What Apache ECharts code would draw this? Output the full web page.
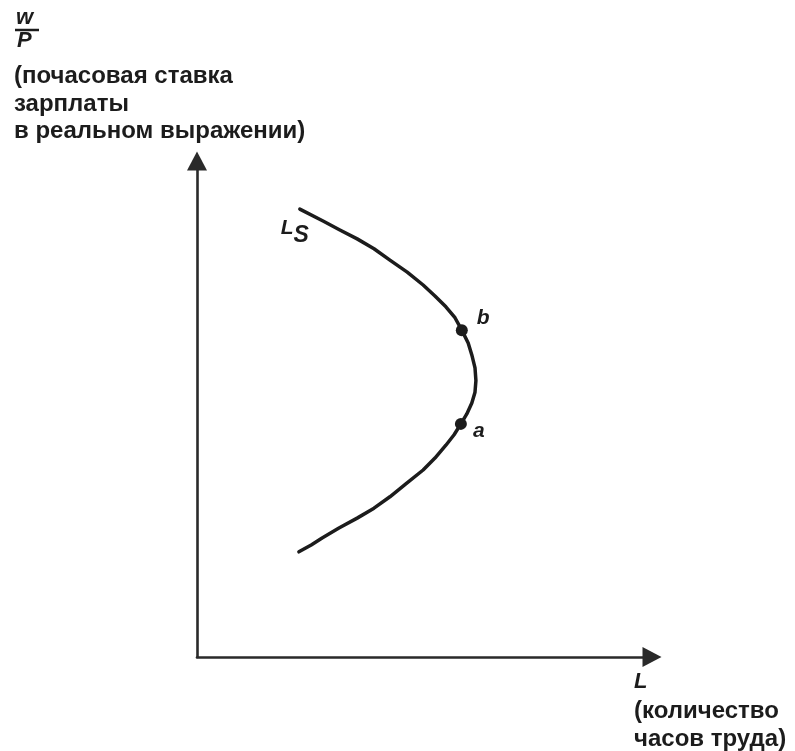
<!DOCTYPE html>
<html><head><meta charset="utf-8">
<script src="https://cdn.jsdelivr.net/npm/echarts@6/dist/echarts.min.js"></script>
<style>html,body{margin:0;padding:0;background:#fff}#c{width:795px;height:751px}</style>
</head><body><div id="c"></div>
<script>
// Labour supply curve L_S (backward bending)
const lsX = [22.6, 27.7, 31.4, 35.2, 38.9, 42.4, 46.2, 49.7, 52.3, 54.7, 56.7, 58.2, 59.6, 60.4, 61.1, 61.3,
             61.1, 60.4, 59.3, 58.0, 56.5, 54.7, 52.3, 49.7, 45.9, 42.4, 38.9, 35.2, 31.2, 27.5, 25.1, 22.4];
const lsY = [90.3, 87.9, 86.1, 84.3, 82.3, 80.0, 77.6, 75.0, 72.8, 70.6, 68.4, 65.9, 63.3, 60.9, 58.3, 55.7,
             53.4, 51.2, 49.0, 47.0, 44.8, 42.7, 40.1, 37.7, 34.9, 32.3, 30.0, 28.0, 26.0, 24.0, 22.6, 21.2];
const pointNames = ['b', 'a'];
const pointX = [58.2, 58.0];
const pointY = [65.9, 47.0];
const curveName = 'L';
const curveSub = 'S';
const yTitle = ['(почасовая ставка', 'зарплаты', 'в реальном выражении)'];
const xTitle = ['(количество', 'часов труда)'];

const font = 'Liberation Sans, Arial, sans-serif';
const ink = '#1c1c1c';
const chart = echarts.init(document.getElementById('c'));
const axisLine = {show: true, symbol: ['none', 'triangle'], symbolSize: [20, 19],
  lineStyle: {color: '#2a2a2a', width: 2.6}};
chart.setOption({
  animation: false,
  grid: {left: 197, right: 143, top: 161, bottom: 94},
  xAxis: {type: 'value', min: 0, max: 100, axisLine: axisLine, axisTick: {show: false},
    axisLabel: {show: false}, splitLine: {show: false}},
  yAxis: {type: 'value', min: 0, max: 100, axisLine: axisLine, axisTick: {show: false},
    axisLabel: {show: false}, splitLine: {show: false}},
  series: [
    {type: 'line', data: lsX.map((x, i) => [x, lsY[i]]), smooth: false, showSymbol: false,
      lineStyle: {color: ink, width: 3.5, cap: 'round', join: 'round'},
      markPoint: {symbol: 'circle', symbolSize: 0,
        data: [{coord: [lsX[0], lsY[0]],
          label: {show: true, position: 'left', distance: 0, offset: [9, 19],
            formatter: '{m|' + curveName + '}{s|' + curveSub + '}',
            rich: {m: {fontFamily: font, fontStyle: 'italic', fontWeight: 'bold', fontSize: 21, color: ink},
                   s: {fontFamily: font, fontStyle: 'italic', fontWeight: 'bold', fontSize: 23, color: ink, padding: [16, 0, 0, 0]}}}}]}},
    {type: 'scatter', data: pointX.map((x, i) => ({value: [x, pointY[i]], name: pointNames[i]})),
      symbolSize: 12, itemStyle: {color: ink, opacity: 1},
      label: {show: true, formatter: '{b}', fontFamily: font, fontStyle: 'italic', fontWeight: 'bold', fontSize: 21,
        color: ink, position: 'right', distance: 9},
      labelLayout: function (p) { return p.dataIndex === 0 ? {dy: -12} : {dy: 7, dx: -3}; }}
  ],
  graphic: [
    {type: 'text', left: 16, top: 7, style: {text: 'w', font: 'italic bold 22px ' + font, fill: ink}},
    {type: 'line', shape: {x1: 15, y1: 30, x2: 39, y2: 30}, style: {stroke: ink, lineWidth: 2.5}},
    {type: 'text', left: 17, top: 30, style: {text: 'P', font: 'italic bold 22px ' + font, fill: ink}},
    {type: 'text', left: 14, top: 63, style: {text: yTitle.join('\n'), font: 'bold 24px ' + font, fill: ink, lineHeight: 27.5}},
    {type: 'text', left: 634, top: 671, style: {text: 'L', font: 'italic bold 22px ' + font, fill: ink}},
    {type: 'text', left: 634, top: 697, style: {text: xTitle.join('\n'), font: 'bold 24px ' + font, fill: ink, lineHeight: 28}}
  ]
});
</script></body></html>
